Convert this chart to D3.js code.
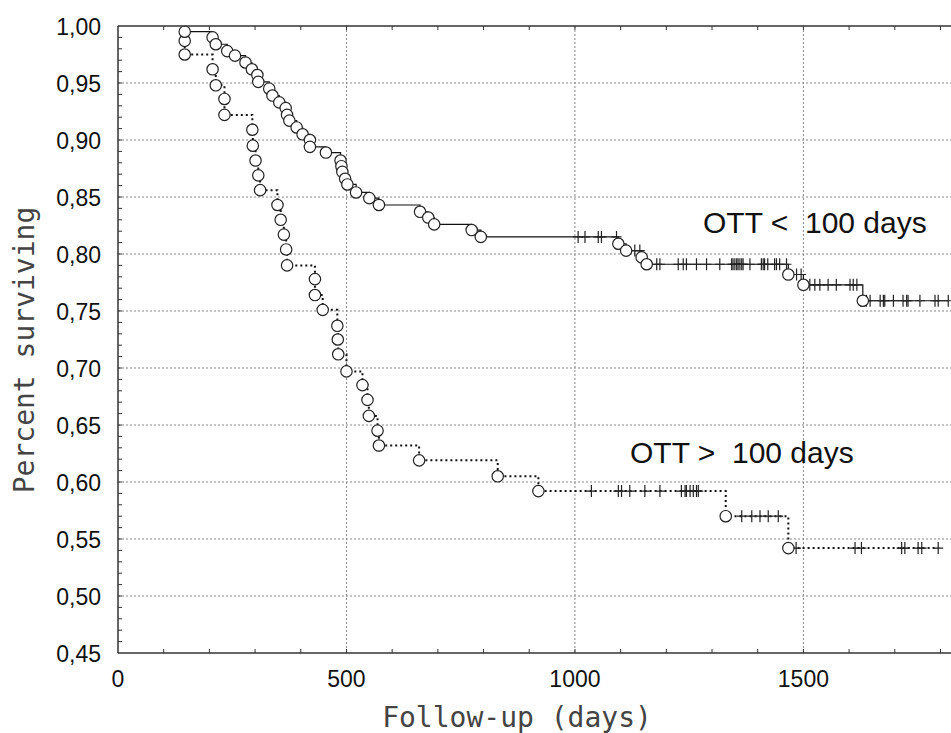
<!DOCTYPE html>
<html>
<head>
<meta charset="utf-8">
<script src="https://cdn.jsdelivr.net/npm/d3@7"></script>
<style>
  body { margin: 0; background: #fff; }
  svg { display: block; }
</style>
</head>
<body>
<svg id="chart" width="951" height="733"></svg>
<script>
// OTT < 100 days : event times (days) and survival after each event
var shortDays = [146, 207, 214, 239, 256, 279, 293, 305, 307, 331, 338, 353, 367, 370, 375, 391, 404, 420, 420, 455,
  487, 489, 491, 497, 502, 521, 550, 571, 661, 679, 692, 774, 794, 1095, 1112, 1146, 1157, 1467, 1500, 1630];
var shortSurv = [0.995, 0.990, 0.984, 0.978, 0.974, 0.968, 0.962, 0.957, 0.951, 0.945, 0.939, 0.933, 0.928, 0.922, 0.917, 0.911, 0.905, 0.900, 0.894, 0.889,
  0.882, 0.877, 0.872, 0.866, 0.861, 0.854, 0.849, 0.843, 0.837, 0.832, 0.826, 0.821, 0.815, 0.809, 0.803, 0.797, 0.791, 0.782, 0.773, 0.759];
// censored times
var shortCens = [1007, 1022, 1051, 1058, 1091, 1131, 1142,
  1179, 1186, 1226, 1237, 1244, 1266, 1288, 1317, 1343, 1346, 1350, 1354, 1357, 1361, 1365, 1368, 1383, 1408, 1412, 1415, 1422, 1437, 1441, 1448, 1463,
  1485, 1495,
  1514, 1525, 1536, 1554, 1572, 1602, 1609, 1617,
  1638, 1646, 1668, 1675, 1678, 1697, 1718, 1726, 1729, 1755, 1788, 1795, 1817];

// OTT > 100 days
var longDays = [146, 146, 207, 214, 233, 233, 294, 295, 301, 307, 311, 349, 356, 363, 368, 370, 431, 431, 448, 480,
  481, 482, 500, 535, 546, 549, 568, 571, 659, 831, 920, 1330, 1467];
var longSurv = [0.987, 0.975, 0.962, 0.948, 0.936, 0.922, 0.909, 0.895, 0.882, 0.869, 0.856, 0.843, 0.830, 0.817, 0.804, 0.790, 0.778, 0.764, 0.751, 0.737,
  0.725, 0.712, 0.697, 0.685, 0.672, 0.658, 0.645, 0.632, 0.619, 0.605, 0.592, 0.570, 0.542];
var longCens = [1036, 1095, 1102, 1120, 1153, 1186, 1233, 1241, 1244, 1252, 1259, 1266, 1270,
  1365, 1387, 1405, 1423, 1445,
  1484, 1613, 1627, 1715, 1722, 1751, 1759, 1795];

var yTicks = [0.45, 0.50, 0.55, 0.60, 0.65, 0.70, 0.75, 0.80, 0.85, 0.90, 0.95, 1.00];
var xTicks = [0, 500, 1000, 1500];

var svg = d3.select("#chart"),
  width = +svg.attr("width"),
  height = +svg.attr("height");

var x = d3.scaleLinear().domain([0, 1823]).range([118, 951]);
var y = d3.scaleLinear().domain([0.45, 1.0]).range([653, 26]);

// grid
svg.append("g")
  .selectAll("line")
  .data(yTicks.filter(d => d > 0.46 && d < 0.99))
  .enter()
  .append("line")
  .attr("x1", x(0)).attr("x2", width)
  .attr("y1", d => y(d)).attr("y2", d => y(d))
  .attr("stroke", "#888")
  .attr("stroke-dasharray", "2,2");
svg.append("g")
  .selectAll("line")
  .data(xTicks.filter(d => d > 0))
  .enter()
  .append("line")
  .attr("x1", d => x(d)).attr("x2", d => x(d))
  .attr("y1", y(1)).attr("y2", y(0.45))
  .attr("stroke", "#888")
  .attr("stroke-dasharray", "2,2");

// survival at time t (step function)
function survAt(days, surv, t) {
  var s = 1;
  for (var i = 0; i < days.length; i++) if (days[i] <= t) s = surv[i];
  return s;
}

function curve(days, surv, cens, dash) {
  var pts = [[days[0], 1]];
  days.forEach((d, i) => pts.push([d, surv[i]]));
  pts.push([d3.max(cens), surv[surv.length - 1]]);
  var line = d3.line()
    .x(d => x(d[0]))
    .y(d => y(d[1]))
    .curve(d3.curveStepAfter);
  var g = svg.append("g");
  g.append("path")
    .attr("d", line(pts))
    .attr("fill", "none")
    .attr("stroke", "#111")
    .attr("stroke-width", dash ? 2 : 1.2)
    .attr("stroke-dasharray", dash ? "2,3" : null);
  // censored marks
  g.selectAll("path.cens")
    .data(cens)
    .enter()
    .append("path")
    .attr("class", "cens")
    .attr("d", d => {
      var cx = x(d), cy = y(survAt(days, surv, d));
      return "M" + cx + "," + (cy - 6) + "V" + (cy + 6) + "M" + (cx - 5) + "," + cy + "H" + (cx + 5);
    })
    .attr("stroke", "#222")
    .attr("stroke-width", 1.2);
  // events
  g.selectAll("circle")
    .data(days)
    .enter()
    .append("circle")
    .attr("cx", d => x(d))
    .attr("cy", (d, i) => y(surv[i]))
    .attr("r", 5.7)
    .attr("fill", "#fff")
    .attr("stroke", "#222")
    .attr("stroke-width", 1.2);
}

curve(longDays, longSurv, longCens, true);
curve(shortDays, shortSurv, shortCens, false);

// axes
var axisColor = "#333";
svg.append("line")
  .attr("x1", x(0)).attr("x2", x(0)).attr("y1", y(1)).attr("y2", y(0.45))
  .attr("stroke", axisColor).attr("stroke-width", 1.5);
svg.append("line")
  .attr("x1", x(0)).attr("x2", width).attr("y1", y(0.45)).attr("y2", y(0.45))
  .attr("stroke", axisColor).attr("stroke-width", 1.5);
svg.append("line")
  .attr("x1", x(0)).attr("x2", width).attr("y1", y(1)).attr("y2", y(1))
  .attr("stroke", axisColor).attr("stroke-width", 1.5);

var minorX = d3.range(100, 1801, 100);
var minorY = d3.range(46, 100).map(d => d / 100);
svg.append("g").selectAll("line")
  .data(minorX).enter().append("line")
  .attr("x1", d => x(d)).attr("x2", d => x(d))
  .attr("y1", y(0.45)).attr("y2", y(0.45) - 4)
  .attr("stroke", axisColor);
svg.append("g").selectAll("line")
  .data(minorX).enter().append("line")
  .attr("x1", d => x(d)).attr("x2", d => x(d))
  .attr("y1", y(1)).attr("y2", y(1) + 4)
  .attr("stroke", axisColor);
svg.append("g").selectAll("line")
  .data(minorY).enter().append("line")
  .attr("x1", x(0)).attr("x2", x(0) + 4)
  .attr("y1", d => y(d)).attr("y2", d => y(d))
  .attr("stroke", axisColor);

var fmt = d3.format(".2f");
svg.append("g").selectAll("text")
  .data(yTicks).enter().append("text")
  .attr("x", 101)
  .attr("y", d => y(d) + 9)
  .attr("text-anchor", "end")
  .attr("font-family", "Liberation Sans, Arial, sans-serif")
  .attr("font-size", 23)
  .attr("fill", "#111")
  .text(d => fmt(d).replace(".", ","));
svg.append("g").selectAll("text")
  .data(xTicks).enter().append("text")
  .attr("x", d => x(d))
  .attr("y", 687)
  .attr("text-anchor", "middle")
  .attr("font-family", "Liberation Sans, Arial, sans-serif")
  .attr("font-size", 23)
  .attr("fill", "#111")
  .text(d => d);

// axis titles
svg.append("text")
  .attr("x", 517).attr("y", 727)
  .attr("text-anchor", "middle")
  .attr("font-family", "DejaVu Sans Mono, monospace")
  .attr("font-size", 28)
  .attr("fill", "#444")
  .text("Follow-up (days)");
svg.append("text")
  .attr("transform", "translate(34,350) rotate(-90)")
  .attr("text-anchor", "middle")
  .attr("font-family", "DejaVu Sans Mono, monospace")
  .attr("font-size", 28)
  .attr("fill", "#444")
  .text("Percent surviving");

// group labels
svg.append("text")
  .attr("x", 703).attr("y", 233)
  .attr("font-family", "Liberation Sans, Arial, sans-serif")
  .attr("font-size", 30)
  .attr("fill", "#111")
  .style("white-space", "pre")
  .text("OTT <  100 days");
svg.append("text")
  .attr("x", 630).attr("y", 463)
  .attr("font-family", "Liberation Sans, Arial, sans-serif")
  .attr("font-size", 30)
  .attr("fill", "#111")
  .style("white-space", "pre")
  .text("OTT >  100 days");
</script>
</body>
</html>
